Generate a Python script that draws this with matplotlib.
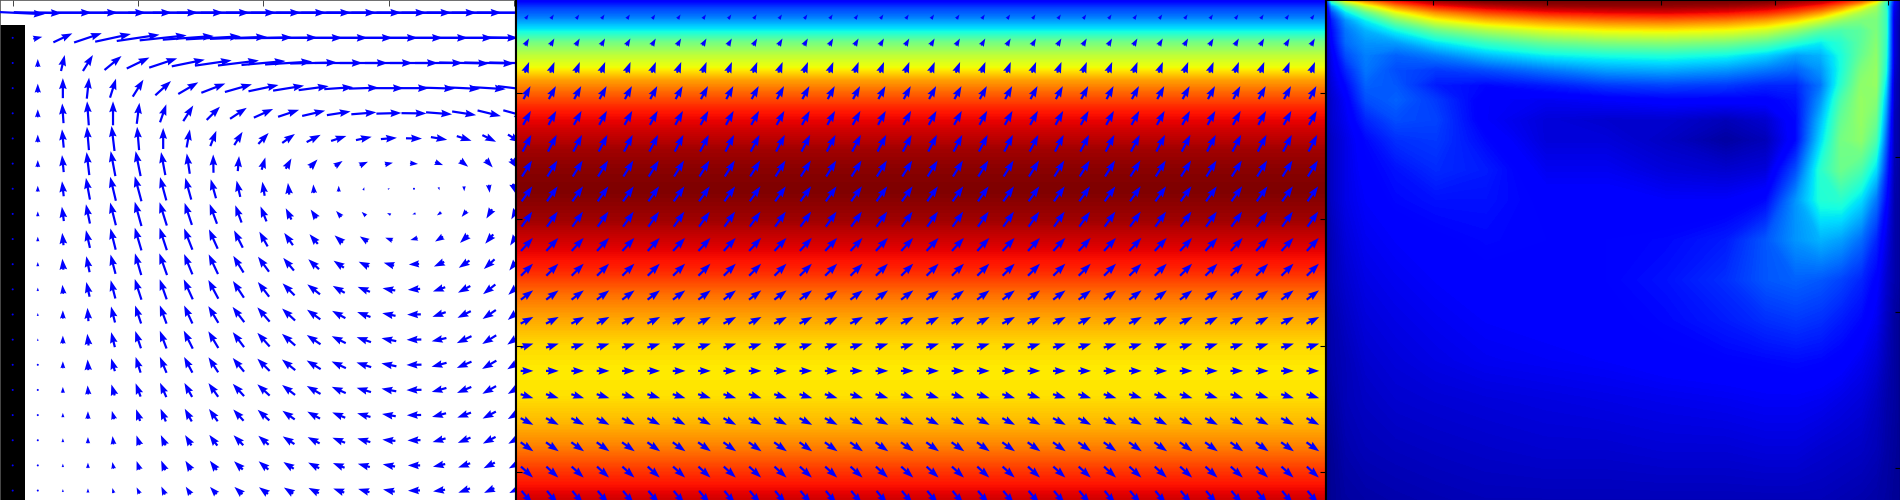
import numpy as np
import matplotlib
matplotlib.use('Agg')
import matplotlib.pyplot as plt
from matplotlib.patches import Rectangle

u1 = [
 [64,48,58,60,66,68,70,71,73,75,75,75,75,75,75,75,75,75,75,75,75],
 [0.5,9,19,27.7,35.7,42.7,47,51,55,57,58,58,58,58,58,58,58,58,58,58,58],
 [0.5,0,3.7,10,17,22.7,28,33,36.7,41,44,47,47,48,48,48,48,48,50,50,50],
 [0.5,0,0,2.3,6,10.7,15.7,20,24,27,30,31,30,29,30,30,30,32,32,33,33],
 [0.5,0,-1.3,-1.7,0,2.7,6.3,10,13.3,16.7,19.3,21,23,23.7,25,25,25,26,24,23.3,22],
 [0.5,0,-1.7,-2,-3,-2,0,3.3,6,8.3,10.3,12.7,14,15.3,15.7,16,16,16.3,14.7,13.7,12.7],
 [0.5,0,-1.7,-2.7,-4.7,-5,-4.3,-3,-0.3,1.3,3.7,5.7,7.7,7.7,8.3,8,8,8,8,7,7],
 [0.5,0,-1.7,-4,-5.7,-6.7,-6.3,-6,-5.3,-3.7,-2.3,-1.3,-0.7,0,1,2,0.5,1,0.3,1,3],
 [0.5,0,-2,-4,-5.7,-6.7,-7.3,-7.3,-7.3,-6.3,-6,-5.7,-6,-5.3,-4.3,-3.7,-3.3,-4.3,-5,-5.7,-6],
 [0.5,0,-1.3,-4,-5.3,-6.7,-7.3,-8.3,-8.7,-8.7,-8.3,-8.7,-8.3,-8.3,-8,-7.3,-7.3,-8,-8.3,-8,-8.3],
 [0.5,0,-1,-3.3,-5,-6.3,-7.7,-8.3,-9.3,-10.3,-11,-10.7,-10.7,-10.3,-10.3,-10.3,-10.3,-10.3,-10.7,-10.7,-10],
 [0.5,0,-1,-3.3,-4.7,-6.7,-7,-9,-10,-11,-11.3,-12,-12.7,-12,-12.3,-12.7,-12.3,-12.3,-12.3,-12.3,-12],
 [0.5,0,0,-1,-4,-6,-6.7,-8.3,-10,-11.7,-12.3,-13,-13.3,-13.3,-13.3,-13.3,-13.7,-13.3,-13.3,-13.3,-13],
 [0.5,0,0,-1.3,-3.7,-5.7,-6.7,-9,-10,-11.3,-12.3,-13.3,-13.7,-14,-14.3,-14.7,-14.7,-14.7,-14.7,-14,-14],
 [0.5,0,0,-0.7,-3.7,-5,-6.7,-8.3,-9.7,-11.3,-12.3,-13.3,-14,-14.3,-14.7,-15,-15,-15,-14.7,-14.3,-14],
 [0.5,0,0,-0.7,-3.3,-5,-6.3,-7.7,-9.7,-11.3,-12.3,-13,-13.7,-14,-14.3,-14.7,-15,-14.7,-14.3,-13.7,-13],
 [0.5,0,0,0,-2.3,-4,-5.3,-7,-8.7,-10.3,-11.7,-12.3,-12.7,-13,-13.3,-13.7,-14.3,-14,-13.7,-13.3,-13],
 [0.5,1.5,0,0,-1,-3.3,-4.7,-6.3,-8,-9.7,-10.3,-11.7,-12,-12.7,-13,-13,-13,-13,-12.7,-12.7,-12],
 [0.5,2,0,0,-1.3,-3,-4,-5.7,-7,-8.7,-9.7,-10.3,-11,-11.7,-12,-12.3,-12.3,-12.3,-12,-11.3,-11],
 [0.5,2,0,0,-1.3,-3,-3.7,-5,-6.7,-8,-9,-9.3,-10.3,-11,-11.3,-11.7,-12,-12,-11.7,-10.3,-10],
]
v1 = [
 [-3,-1,0,0,0,0,0,0,0,0,0,0,0,0,0,0,0,0,0,0,0],
 [0.5,2,9,9.3,7.7,6.3,5,3.7,3,2,1,0.5,0,0,0,0,0,0,0,0,-1],
 [0.5,8,16,16,14,11,9.3,6.7,5.3,5,4,3,1,0,0,0,0,0,-1,-1,-1],
 [0.5,9,20,21,19,17,14.3,11.7,9.3,7.7,6.3,5,4,2,1,0,0,-1,-1.5,-2,-4],
 [0.5,8,19.7,24,24,21,18,15.7,13.3,11,8.7,7,5.3,3.7,2,0.7,-0.3,-2,-3.7,-5.7,-6],
 [0.5,7.7,18.3,23.3,25,23.3,21,18,15.3,13.3,11,9,7.3,5,3.3,1.3,-0.3,-2.7,-4.7,-6.7,-7.7],
 [0.5,7,17,23,25,25,23,20.3,18.3,15,12.3,10.3,8.3,5.3,3.7,1.7,-0.7,-3,-6.3,-7.7,-10],
 [0.5,6,15,21.7,24,25,23.3,21.7,19,16.3,14,11.7,8.7,6,3,1,0.3,-3,-5,-8,-10],
 [0.5,5,14.3,19.3,22.7,24.3,23.3,22,19.7,17.3,15,11.3,8.7,6,4,1.7,-1,-3,-6,-9.3,-11],
 [0.5,4.7,12.3,17.7,21.3,22.7,22.3,21.3,19.3,17.3,14.7,12.3,9.7,7.3,5.3,2.7,-2,-5,-7.7,-9.3,-13],
 [0.5,4.3,11,16,19.3,21.7,21.7,20.3,19.7,16.7,15,12.7,10,7,5,3,-0.7,-4.7,-7.3,-9.7,-12.7],
 [0.5,3.5,9,14.7,18.3,20.7,20,20,18.7,16.7,14.7,12,10,7,5,2.3,-1,-4.3,-6.7,-9.7,-11],
 [0.5,3,8.3,13.3,16,18,18.3,18,16.7,15.3,14.3,12,9.7,7.3,5,2.7,-0.3,-4.7,-6.7,-9,-11],
 [0.5,2.5,8,11.7,15,17.3,17.7,18,16.7,15,13.7,11.7,9.3,7,5,3,-0.3,-3.3,-7,-8.7,-10],
 [0.5,2,7,10.7,12.7,15.7,16,15.7,15,13.7,12.3,10.7,8.7,6.7,4.7,3,-0.3,-4,-6.3,-8.3,-9],
 [0.5,1.5,6,9,11,13.3,14.3,14,13.7,12.3,11.3,10,8,6.3,4.3,2.7,-0.3,-4,-6,-7.7,-8],
 [0.5,1,4.5,7.7,8.3,11.7,12.7,12.7,12.3,11.3,10.7,8.7,7,5.3,3.7,2.3,-0.3,-3.7,-5,-7,-8],
 [0.5,0,4,6.3,8.3,9.7,10.3,10.3,10.7,10,9,7.7,6.3,5,3.7,1.3,-0.3,-3.7,-5.3,-6.7,-7],
 [0.5,0,3.5,5.5,6.7,8.7,9.7,9.3,9.3,8.3,8.3,6.7,5.7,4.7,3.3,2.3,0,-2.7,-4.3,-5.7,-6],
 [0.5,0,3,4.3,5,6.3,8,7.7,7.3,7.3,6.7,6,5.3,4,3.3,2.3,-0.3,-1.7,-4.3,-4.7,-5],
]

# panel 2: arrows repeat along each row
u2_row = [3,4,4.3,7,7.7,8.7,10,10.7,10.7,12,12,12.3,12.7,12.7,12.7,12.7,12.7,12.7,12,10.7]
v2_row = [4.5,7,10.7,13,14,16.7,16,15,15,13,12,9.3,6.7,4,0,-4,-6.7,-9,-11,-13]
bg2_y = [0,3,8,16,30,42,55,67,80,92,110,130,150,170,190,220,240,270,295,320,345,370,395,420,445,470,500]
bg2_val = [.10,.14,.19,.24,.36,.49,.58,.64,.74,.80,.88,.93,.97,.99,1.0,.97,.93,.87,.79,.73,.68,.66,.67,.71,.77,.85,.93]

# panel 3: speed field on a coarse grid
x3 = [0,6,20,40,70,110,160,220,280,340,400,440,470,495,515,535,550,560,568,574]
y3 = [0,2,6,12,20,30,42,55,70,85,100,120,140,170,200,240,280,320,360,400,450,500]
z3 = [
 [.10,.45,.70,.80,.90,.97,1,1,1,1,1,1,.97,.95,.90,.82,.70,.50,.15,.05],
 [.08,.40,.58,.72,.86,.95,.99,1,1,1,1,.99,.96,.93,.87,.78,.64,.42,.12,.04],
 [.06,.28,.45,.60,.76,.88,.94,.97,.98,.98,.97,.95,.91,.86,.78,.66,.55,.40,.10,.04],
 [.05,.20,.35,.47,.63,.76,.84,.89,.91,.92,.90,.87,.82,.75,.65,.56,.52,.42,.09,.04],
 [.04,.15,.27,.36,.50,.63,.71,.76,.79,.80,.78,.74,.68,.60,.53,.50,.50,.42,.08,.04],
 [.04,.13,.24,.30,.37,.48,.56,.62,.65,.66,.64,.60,.53,.46,.44,.46,.50,.42,.08,.03],
 [.04,.12,.23,.27,.28,.35,.42,.48,.51,.52,.50,.46,.40,.36,.40,.46,.51,.41,.08,.03],
 [.04,.10,.20,.25,.22,.25,.31,.36,.38,.39,.37,.33,.28,.30,.38,.47,.52,.40,.08,.03],
 [.04,.09,.16,.24,.20,.18,.20,.24,.28,.29,.27,.24,.22,.27,.38,.50,.53,.38,.07,.03],
 [.04,.08,.13,.22,.21,.15,.13,.15,.18,.19,.18,.16,.16,.24,.40,.52,.53,.34,.06,.03],
 [.04,.07,.11,.20,.22,.18,.11,.10,.11,.12,.12,.12,.14,.27,.44,.53,.51,.30,.06,.03],
 [.04,.07,.10,.16,.20,.19,.11,.08,.07,.07,.05,.07,.13,.31,.47,.53,.48,.26,.05,.03],
 [.03,.06,.09,.13,.17,.18,.13,.08,.08,.06,.03,.05,.13,.34,.49,.52,.44,.22,.05,.03],
 [.03,.06,.09,.12,.14,.165,.15,.10,.10,.08,.07,.08,.20,.40,.48,.44,.34,.17,.045,.03],
 [.03,.06,.09,.11,.13,.14,.14,.12,.12,.11,.11,.13,.27,.39,.40,.34,.24,.13,.04,.03],
 [.03,.05,.08,.10,.11,.12,.13,.125,.125,.13,.15,.21,.27,.30,.28,.23,.16,.09,.04,.03],
 [.02,.05,.07,.09,.10,.11,.12,.12,.125,.14,.17,.21,.22,.21,.19,.16,.12,.07,.04,.03],
 [.02,.04,.06,.08,.09,.10,.11,.115,.12,.13,.15,.17,.18,.17,.15,.13,.10,.06,.03,.02],
 [.02,.04,.05,.07,.08,.09,.10,.105,.11,.12,.125,.13,.135,.13,.12,.10,.08,.05,.03,.02],
 [.02,.03,.05,.06,.07,.075,.08,.085,.09,.095,.10,.105,.105,.10,.09,.08,.06,.04,.03,.02],
 [.01,.02,.04,.05,.055,.06,.065,.07,.07,.075,.075,.08,.08,.07,.065,.06,.05,.035,.025,.02],
 [.01,.02,.03,.035,.04,.045,.05,.05,.05,.05,.05,.05,.05,.05,.045,.04,.035,.03,.02,.02],
]

W, H = 1900, 500
fig = plt.figure(figsize=(19, 5), dpi=100, facecolor='white')
quiv = dict(units='dots', width=2.2, headwidth=3.5, angles='uv', scale_units='dots', scale=1,
            pivot='mid', color=(0, 0, 1))

# left panel, grid index coordinates
ax1 = fig.add_axes([0, 0, 516 / W, 1])
ax1.set_xlim(-12.7 / 25.08, (516 - 12.7) / 25.08)
ax1.set_ylim((500 - 12.7) / 25.15, -12.7 / 25.15)
ax1.add_patch(Rectangle((0, 0), 25 / 516, 475 / 500, transform=ax1.transAxes,
                        facecolor='black', edgecolor='none', zorder=1))
ax1.quiver(np.arange(21), np.arange(20), u1, v1, zorder=3, **quiv)
ax1.set_xticks([0, 5, 10, 15, 20])
ax1.set_yticks([])
ax1.xaxis.tick_top()
ax1.tick_params(axis='x', direction='in', length=4.3, width=0.7, color='#444444', labeltop=False)
for s in ['top', 'left']:
    ax1.spines[s].set_color('#555555')
    ax1.spines[s].set_linewidth(1.2)
ax1.spines['bottom'].set_visible(False)
ax1.spines['right'].set_linewidth(1.5)

# middle panel
ax2 = fig.add_axes([516 / W, 0, (1326 - 516) / W, 1])
ax2.contourf([0, 1], bg2_y, np.column_stack([bg2_val, bg2_val]),
             levels=np.linspace(0, 1, 257), cmap='jet',
             transform=ax2.get_yaxis_transform())
ax2.set_xlim(-11 / 25.35, (810 - 11) / 25.35)
ax2.set_ylim(500, 0)
ncol = 32
ax2.quiver(np.arange(ncol), 16.7 + 25.3 * np.arange(20),
           np.tile(np.array(u2_row)[:, None], (1, ncol)),
           np.tile(np.array(v2_row)[:, None], (1, ncol)), **quiv)
ax2.set_xticks([])
ax2.set_yticks([92.6, 219, 346, 472])
ax2.yaxis.set_ticks_position('both')
ax2.tick_params(axis='y', direction='in', length=4.3, width=0.8, labelleft=False)
ax2.spines['left'].set_linewidth(1.5)
ax2.spines['right'].set_linewidth(1.5)
ax2.spines['top'].set_visible(False)
ax2.spines['bottom'].set_visible(False)

# right panel
ax3 = fig.add_axes([1326 / W, 0, (W - 1326) / W, 1])
ax3.contourf(x3, y3, z3, levels=np.linspace(0, 1, 257), cmap='jet')
ax3.set_xlim(0, 574)
ax3.set_ylim(500, 0)
ax3.set_xticks([107, 221, 334.7, 448.7, 562])
ax3.set_yticks([157, 312, 467.7])
ax3.xaxis.tick_top()
ax3.yaxis.tick_right()
ax3.tick_params(direction='in', length=3.5, width=0.8, labeltop=False, labelright=False)
ax3.spines['bottom'].set_visible(False)
ax3.spines['left'].set_linewidth(1.5)
ax3.spines['top'].set_linewidth(1.5)

fig.savefig('out.png', dpi=100)
